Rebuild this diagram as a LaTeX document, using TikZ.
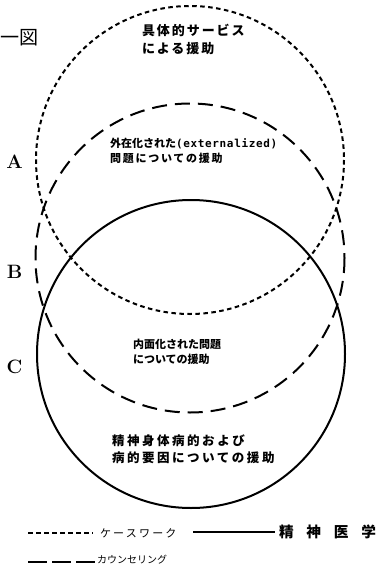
\documentclass[tikz,border=0pt]{standalone}
\usepackage{fontspec}
\newfontfamily\jp{Noto Sans CJK JP}
\newfontfamily\monof{DejaVu Sans Mono}
\begin{document}
\begin{tikzpicture}[x=0.75pt,y=-0.75pt,
  circ/.style={line width=1.5pt},
  cwline/.style={circ,dash pattern=on 3.4pt off 2.6pt},
  csline/.style={circ,dash pattern=on 11.25pt off 6pt},
  psline/.style={circ},
  lbl/.style={inner sep=0pt,outer sep=0pt},
  abc/.style={lbl,font=\fontsize{14.5}{16}\selectfont\bfseries},
  legdot/.style={line width=1.2pt,dash pattern=on 3.8pt off 2.2pt},
  legsolid/.style={line width=1.2pt},
  legdash/.style={line width=1.8pt,dash pattern=on 14pt off 4pt}]
\useasboundingbox (0,0) rectangle (380,564);
% circles
\draw[cwline] (190,160) circle[radius=154];
\draw[csline] (190,258) circle[radius=154.5];
\draw[psline] (191,354) circle[radius=154];
% title
\node[lbl,anchor=west,font=\jp\fontsize{14.3}{16}\selectfont] (title) at (0.5,38) {一図};
% A B C
\node[abc] (A) at (14.5,162) {A};
\node[abc] (B) at (14.5,272) {B};
\node[abc] (C) at (14.5,367) {C};
% texts
\node[lbl,anchor=west,align=left,font=\jp\bfseries\fontsize{9.75}{13.5}\selectfont\addfontfeature{LetterSpace=15}] (t1) at (142,39) {具体的サービス\\による援助};
\node[lbl,anchor=west,align=left,font=\jp\bfseries\fontsize{8.25}{11.25}\selectfont] (t2) at (110,150.5) {外在化された{\monof\bfseries\addfontfeature{LetterSpace=6}(externalized)}\\{\addfontfeature{LetterSpace=16}問題についての援助}};
\node[lbl,anchor=west,align=left,font=\jp\bfseries\fontsize{8.25}{11.25}\selectfont] (t3) at (133,351.5) {内面化された問題\\についての援助};
\node[lbl,anchor=west,align=left,font=\jp\bfseries\fontsize{9.4}{12.75}\selectfont\addfontfeature{LetterSpace=20}] (t4) at (112,449.5) {精神身体病的および\\病的要因についての援助};
% legend
\coordinate (l1a) at (28,533); \coordinate (l1b) at (93,533);
\draw[legdot] (l1a) -- (l1b);
\node[lbl,anchor=west,font=\jp\fontsize{8.25}{10}\selectfont\addfontfeature{LetterSpace=20}] (k1) at (100,533) {ケースワーク};
\coordinate (l2a) at (193,532); \coordinate (l2b) at (275,532);
\draw[legsolid] (l2a) -- (l2b);
\node[lbl,anchor=west,font=\jp\bfseries\fontsize{11}{12}\selectfont\addfontfeature{LetterSpace=87}] (k2) at (279,532) {精神医学};
\coordinate (l3a) at (28,562); \coordinate (l3b) at (95,562);
\draw[legdash] (l3a) -- (l3b);
\node[lbl,anchor=west,font=\jp\fontsize{7.5}{9}\selectfont] (k3) at (97,560) {カウンセリング};
\end{tikzpicture}
\end{document}
